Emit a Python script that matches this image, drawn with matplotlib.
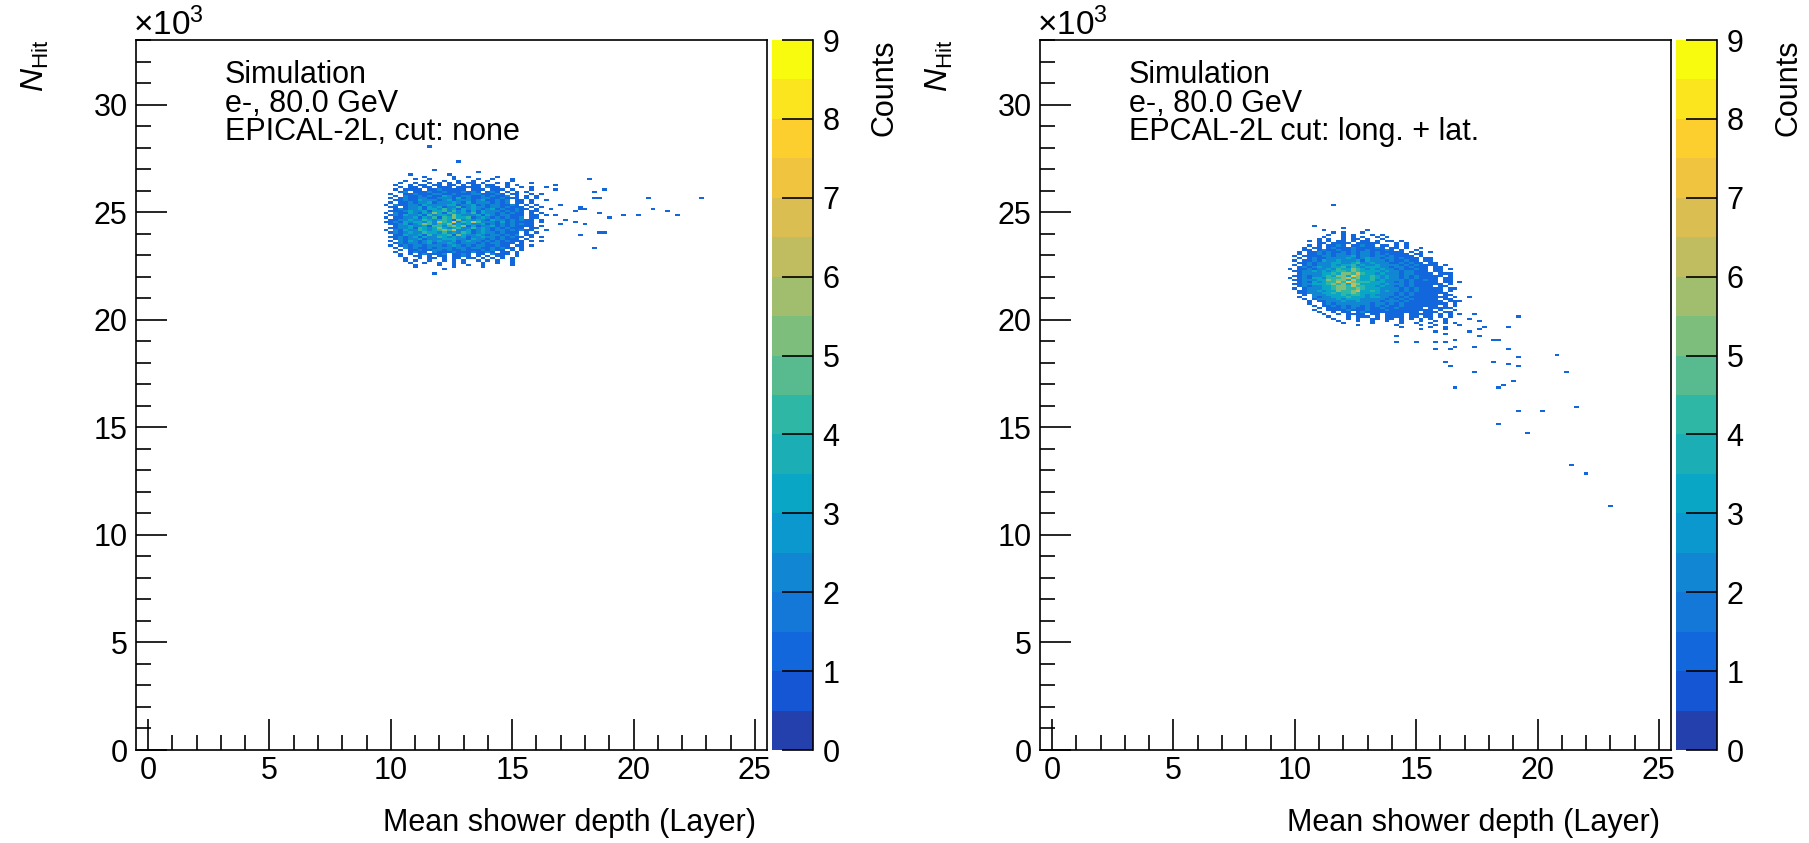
import numpy as np
import matplotlib
matplotlib.use("Agg")
import matplotlib.pyplot as plt
from matplotlib.colors import LinearSegmentedColormap, ListedColormap, BoundaryNorm
from matplotlib.ticker import MultipleLocator

plt.rcParams['font.family'] = ['Liberation Sans', 'DejaVu Sans']
plt.rcParams['mathtext.fontset'] = 'custom'
plt.rcParams['mathtext.rm'] = 'Liberation Sans'
plt.rcParams['mathtext.it'] = 'Liberation Sans:italic'

# histogram binning (x: layer, y: thousands of hits)
X_EDGES = np.linspace(-0.5, 25.5, 131)
Y_EDGES = np.linspace(0.0, 33.0, 331)
X_BIN = 0.2
Y_BIN = 0.1

# counts, one string per y-bin row ('.' = empty)
# left: no cut, grid starts at x = 9.7, top row ends at y = 27.0k
LEFT_X0, LEFT_YTOP = 9.7, 27.0
LEFT_ROWS = [
    "..........1.........................",
    "...................1................",
    ".....1.......1......................",
    "........1.....1..1.....1............",
    "......1..1....1....1..1...1.........",
    "....1...1...1..1..1..1....1.........",
    "...1..1..1.1.1.1.11.1..1.1....1.....",
    "..1..1.11.11.11.1.11.11..1.1........",
    "...1.11.11.111.11111.211.1..1.1..1..",
    "..1.1111.11211111.111.111.1...1....1",
    "...12.11121121112121.121.1.1.1......",
    ".1..112111221121112211121.11..1.1...",
    "..1.2112121132112211212112.1.1.1....",
    ".1.1211221122213121122112111.1.1....",
    "..112113222123122212311212.11.1..1..",
    ".1.11212231222321312221212.11.1.....",
    "1.21122132222331223121221121.1.1....",
    ".11.1223132312241232212212111.1.1...",
    "..1212231332423132321231211211.1..1.",
    ".1112322313342423131322212121.11....",
    "1.211321325314323241322121211.1.1...",
    ".1213223142332532223132122111.11.1..",
    "1.112231324143533412321212112.11....",
    ".112232243234315232321322121211.1...",
    "1121323324264372436422213121111.1...",
    ".112312354243523232231212121211.....",
    "..12232231442453513122312121111.1...",
    ".1122314323532342242321212111.11....",
    "1.21322432345462231232122121211..1..",
    ".121232243324232431232212111.1.1....",
    "..11322314233415322321221212.11.....",
    ".1121231322432323122322121211.1.1...",
    "..12122312223332213221212111.1......",
    ".1.21321232322312322121212111.1.1...",
    "..1212212312232122212122111.1.......",
    ".1.12122122212321212211211.11.1.....",
    "..1.21211212221221221121211.1.......",
    "...1.11211221211211121211.1.1.......",
    "..1..1211.2111211121121.11.1........",
    "...1.1.121112.1121.11.2111.1........",
    "...1..11.1.11.1121.1.1.11..1........",
    "....1..1.11.1.11.11.1.1.1.1.........",
    "....1.1..1..1.1.1..1.1.1..1.........",
    ".....1..1..1..1.1...1..1..1.........",
    "......1....1..1..1..1.....1.........",
    "......1.......1.....1...............",
    "............1.......................",
    "....................................",
    "..........1.........................",
]
LEFT_OUT_X = [11.5, 12.8, 18.2, 18.8, 18.4, 18.3, 18.6, 20.7, 22.8, 20.9,
              21.3, 21.8, 19.5, 20.1, 19.0, 18.5, 18.0, 17.8, 18.7, 18.9,
              17.9, 18.3, 17.5, 18.0, 16.9, 17.0, 17.2, 17.0, 17.5, 17.8, 16.9]
LEFT_OUT_Y = [28.05, 27.35, 26.55, 26.05, 25.95, 25.65, 25.65, 25.65, 25.65, 25.15,
              25.05, 24.85, 24.85, 24.85, 24.75, 24.95, 25.15, 25.25, 24.05, 24.05,
              23.95, 23.35, 24.55, 24.45, 26.25, 25.35, 24.65, 24.45, 25.05, 25.15, 24.85]

# right: long. + lat. cut, grid starts at x = 9.7, top row ends at y = 24.5k
RIGHT_X0, RIGHT_YTOP = 9.7, 24.5
RIGHT_ROWS = [
    "....................................",
    ".....1..............................",
    "...........1........................",
    ".......1........1...................",
    ".........1.1...1....................",
    "........1..1.1...1.1................",
    ".......1...1.1.1..1.1...............",
    "......1.1..1.11.1..1................",
    "....1.1.1.11.1.11.1.11.1............",
    "......11.1111.11111...1.1...........",
    "....1.1.1121.11211.11.1.1...........",
    "...1.11.121112111121.11.1..1........",
    "...11.1211211211211121.1..1.........",
    "..1.11212112121221211111.1.1.1......",
    "..1.112121221212212121111.11........",
    ".1.11112212223122122121111.1........",
    "..1.12112222321232212212111.11......",
    ".1.112132232223132221211211.11......",
    "..11212223322342232221121211.11.....",
    ".1.1212223233423223222212121111.1...",
    "..121232233424323332212212111.11....",
    "1.112122324335432323221211211.11.1..",
    ".1122323234435433332322122111.11....",
    "..1222233435546433232221221111.111..",
    ".1121223435537533432322121211111.1..",
    "1.12133244456453343232212121111.11..",
    ".112223354553643342322221211211.11..",
    "..12132344647544433322121211111.11.1",
    ".1122333454536533332322212111111.1..",
    "..1212233455464433232212121111.11...",
    ".1.12223345544543332222121211111.11.",
    "..112232335445633432322121211111.1..",
    "..1122233434454333322212121111111...",
    "...1.22233343443232222121211111.11..",
    "..1..2122333433323322121211111111.1.",
    "...1.12222323332222212121211111.11..",
    "....1.11222322322221222121111111.11.",
    "....1..12122222221221212111111111.1.",
    ".....1.112121221212121121111111.1.1.",
    "......1.11121211211211211111.11111..",
    ".....1..1111211121112111111111.1..1.",
    "......1..1.11.1211111111111.111.11..",
    ".......1..1.1111.11.1111.11111.1.1..",
    "........1...1.111.1.1111.11.11.1.1..",
    ".........1..1.1..11.11.1.1.1.1..1...",
    "..........1...1..1..1..1...1..1.1...",
    "...........1.....1.....1..1..1..1.1.",
    "..............1.......1....1..1....1",
    ".......................1.....1..1...",
    "...........................1....1...",
    "..............................1.....",
    "................................1...",
    "......................1.............",
    "....................................",
    "..................................1.",
]
RIGHT_OUT_X = [19.1, 18.9, 18.9, 19.2, 20.9, 18.9, 19.1, 18.2, 21.1, 19.0,
               17.3, 18.3, 18.7, 16.5, 21.5, 19.2, 20.2, 18.4, 19.7, 21.4,
               22.0, 23.0, 16.1, 16.3, 14.2, 15.0, 15.7, 16.3, 16.5, 17.4,
               15.7, 16.1, 17.6, 18.1, 18.4, 17.9, 17.6, 17.2, 17.6, 17.2,
               17.3, 16.9, 17.2, 16.9, 11.6]
RIGHT_OUT_Y = [20.15, 19.65, 18.65, 18.25, 18.35, 17.95, 17.85, 18.05, 17.55, 17.15,
               17.55, 16.85, 16.95, 16.85, 15.95, 15.75, 15.75, 15.15, 14.75, 13.25,
               12.85, 11.35, 18.05, 17.85, 18.95, 18.95, 18.65, 18.65, 18.75, 18.75,
               18.95, 18.95, 19.25, 19.05, 19.05, 19.65, 19.55, 19.45, 19.95, 20.05,
               20.25, 20.25, 21.05, 20.85, 25.35]

LEFT_TEXT = ["Simulation", "e-, 80.0 GeV", "EPICAL-2L, cut: none"]
RIGHT_TEXT = ["Simulation", "e-, 80.0 GeV", "EPCAL-2L cut: long. + lat."]

COUNT_LEVELS = np.arange(0, 9.01, 0.5)
CBAR_TICKS = list(range(10))


def build_counts(rows, x0, ytop, out_x, out_y):
    counts = np.zeros((len(Y_EDGES) - 1, len(X_EDGES) - 1))
    ix0 = int(round((x0 - X_EDGES[0]) / X_BIN))
    iy_top = int(round(ytop / Y_BIN)) - 1
    for r, row in enumerate(rows):
        for c, ch in enumerate(row):
            if ch != '.':
                counts[iy_top - r, ix0 + c] += int(ch)
    h, _, _ = np.histogram2d(out_x, out_y, bins=[X_EDGES, Y_EDGES])
    return counts + h.T


# ROOT kBird palette, 18 contour bands
bird = LinearSegmentedColormap.from_list("bird", list(zip(
    np.linspace(0, 1, 9),
    [(0.2082, 0.1664, 0.5293), (0.0592, 0.3599, 0.8684), (0.0780, 0.5041, 0.8385),
     (0.0232, 0.6419, 0.7914), (0.1802, 0.7178, 0.6425), (0.5301, 0.7492, 0.4662),
     (0.8186, 0.7328, 0.3499), (0.9956, 0.7862, 0.1968), (0.9764, 0.9832, 0.0539)])))
nband = len(COUNT_LEVELS) - 1
cmap = ListedColormap([bird((i + 0.99) / nband) for i in range(nband)])
norm = BoundaryNorm(COUNT_LEVELS, nband)

W, H = 1809, 843
fig = plt.figure(figsize=(W / 100, H / 100), dpi=100)
FS = 22


def box(x0, x1, y0=40, y1=750):
    return [x0 / W, 1 - y1 / H, (x1 - x0) / W, (y1 - y0) / H]


panels = [
    (136, 767, 772, 813, LEFT_ROWS, LEFT_X0, LEFT_YTOP, LEFT_OUT_X, LEFT_OUT_Y, LEFT_TEXT),
    (1040, 1671, 1676, 1717, RIGHT_ROWS, RIGHT_X0, RIGHT_YTOP, RIGHT_OUT_X, RIGHT_OUT_Y, RIGHT_TEXT),
]

for (axl, axr, cbl, cbr, rows, x0, ytop, ox, oy, texts) in panels:
    ax = fig.add_axes(box(axl, axr))
    counts = build_counts(rows, x0, ytop, ox, oy)
    mesh = ax.pcolormesh(X_EDGES, Y_EDGES, np.ma.masked_equal(counts, 0),
                         cmap=cmap, norm=norm, shading='flat', antialiased=False)
    ax.set_xlim(-0.5, 25.5)
    ax.set_ylim(0, 33)
    ax.xaxis.set_major_locator(MultipleLocator(5))
    ax.xaxis.set_minor_locator(MultipleLocator(1))
    ax.yaxis.set_major_locator(MultipleLocator(5))
    ax.yaxis.set_minor_locator(MultipleLocator(1))
    ax.tick_params(which='both', direction='in', top=False, right=False, width=1.2, labelsize=FS)
    ax.tick_params(which='major', length=22)
    ax.tick_params(which='minor', length=11)
    ax.tick_params(axis='x', pad=4)
    ax.tick_params(axis='y', pad=6)
    for s in ax.spines.values():
        s.set_linewidth(1.2)

    # colour scale
    cax = fig.add_axes(box(cbl, cbr))
    cb = fig.colorbar(mesh, cax=cax, ticks=CBAR_TICKS)
    cb.outline.set_visible(False)
    cb.minorticks_off()
    cax.tick_params(axis='y', direction='in', length=22, width=1.2, labelsize=FS, pad=7,
                    left=False, right=True)
    cax.plot([1, 1], [0, 1], color='black', lw=1.2, transform=cax.transAxes, clip_on=False)

    # labels
    fig.text((axl - 101) / W, 1 - 40 / H, r'$N_{\rm Hit}$', rotation=90,
             ha='center', va='top', fontsize=FS + 1)
    fig.text((axl - 3) / W, 1 - 35 / H, '×10$^{3}$', ha='left', va='baseline', fontsize=24)
    fig.text((axr - 11) / W, 1 - 823 / H, 'Mean shower depth (Layer)',
             ha='right', va='center', fontsize=FS)
    fig.text((axr + 118) / W, 1 - 40 / H, 'Counts', rotation=90,
             ha='center', va='top', fontsize=FS)
    for i, t in enumerate(texts):
        fig.text((axl + 89) / W, 1 - (83 + 28.5 * i) / H, t,
                 ha='left', va='baseline', fontsize=FS)

fig.savefig("out.png", dpi=100)
